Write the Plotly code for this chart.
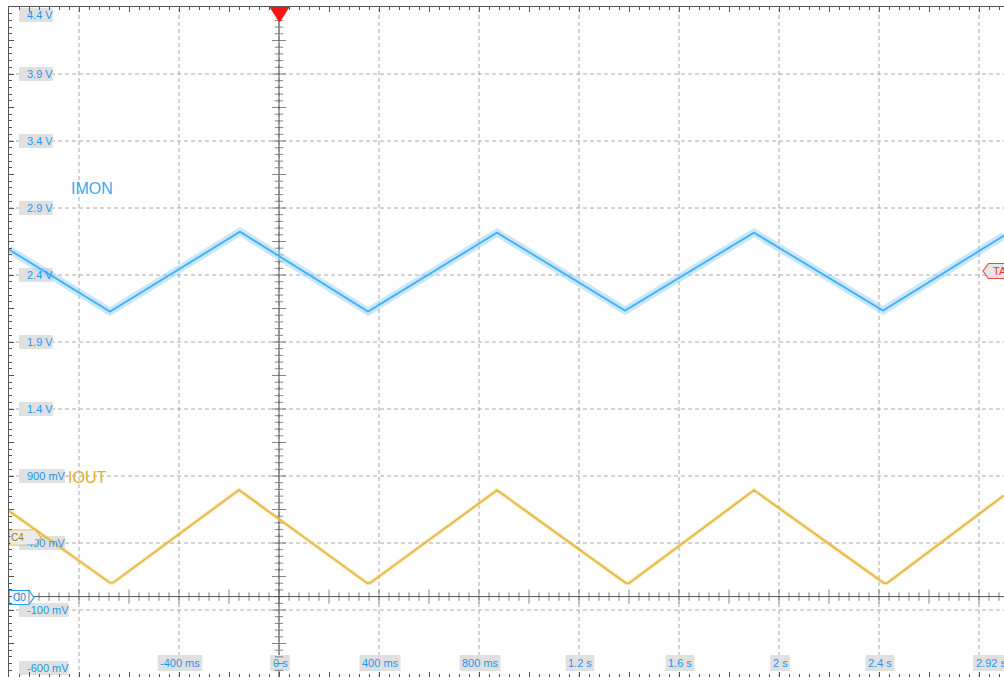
import numpy as np
import plotly.graph_objects as go

# ---------------- data ----------------
imon_t = [-1.08, -0.676, -0.156, 0.356, 0.872, 1.384, 1.900, 2.416, 2.90]
imon_v = [2.590, 2.127, 2.723, 2.127, 2.716, 2.135, 2.716, 2.135, 2.694]

iout_t = [-1.08, -0.676, -0.664, -0.160, 0.352, 0.364, 0.872, 1.388, 1.400, 1.900, 2.420, 2.432, 2.90]
iout_v = [0.639, 0.103, 0.103, 0.796, 0.101, 0.101, 0.794, 0.100, 0.100, 0.794, 0.100, 0.100, 0.756]

y_tick_vals = [4.4, 3.9, 3.4, 2.9, 2.4, 1.9, 1.4, 0.9, 0.4, -0.1, -0.6]
y_tick_text = ["4.4 V", "3.9 V", "3.4 V", "2.9 V", "2.4 V", "1.9 V", "1.4 V",
               "900 mV", "400 mV", "-100 mV", "-600 mV"]
x_tick_vals = [-0.4, 0.0, 0.4, 0.8, 1.2, 1.6, 2.0, 2.4, 2.92]
x_tick_text = ["-400 ms", "0 s", "400 ms", "800 ms", "1.2 s", "1.6 s", "2 s", "2.4 s", "2.92 s"]

x_grid = [-0.8, -0.4, 0.0, 0.4, 0.8, 1.2, 1.6, 2.0, 2.4, 2.8]
y_grid = [3.9, 3.4, 2.9, 2.4, 1.9, 1.4, 0.9, 0.4, -0.1]

# ---------------- geometry ----------------
BODY = 0                       # page margin removed by post_script
PLOT_L, PLOT_T = 9, 7          # screen px of plot-area left / top
PLOT_R, PLOT_B = 1004, 677
W = PLOT_R - BODY
H = PLOT_B - BODY
X_RANGE = [-1.08, 2.90]
Y_RANGE = [-0.6, 4.4]
PPX = (PLOT_R - PLOT_L) / (X_RANGE[1] - X_RANGE[0])
PPY = (PLOT_B - PLOT_T) / (Y_RANGE[1] - Y_RANGE[0])


def tx(px):
    return X_RANGE[0] + (px - PLOT_L) / PPX


def vy(py):
    return Y_RANGE[1] - (py - PLOT_T) / PPY


def sx(t):
    return PLOT_L + (t - X_RANGE[0]) * PPX


FONT = "Liberation Sans, Arial, sans-serif"
BLUE_TXT = "#1e96f0"
LABEL_BG = "#e0e0e0"
AXIS_C = "#555555"
GRID_C = "#a8a8a8"
IMON_C = "#4ab2f2"
IMON_HALO = "rgba(150,210,250,0.5)"
IOUT_C = "#e6b53a"

CW = {"0": .556, "1": .556, "2": .556, "3": .556, "4": .556, "5": .556, "6": .556,
      "7": .556, "8": .556, "9": .556, ".": .278, " ": .278, "V": .667, "m": .833,
      "s": .5, "-": .333}


def text_w(s, size=11):
    return sum(CW.get(c, .55) for c in s) * size


def path(pts, close=True):
    p = "M " + " L ".join(f"{tx(a):.5f},{vy(b):.5f}" for a, b in pts)
    return p + (" Z" if close else "")


shapes = []
annotations = []

# dashed grid
for gx in x_grid:
    shapes.append(dict(type="line", xref="x", yref="paper", x0=gx, x1=gx, y0=0, y1=1,
                       line=dict(color=GRID_C, width=1, dash="4px,3px"), layer="below"))
for gy in y_grid:
    shapes.append(dict(type="line", xref="paper", yref="y", x0=0, x1=1, y0=gy, y1=gy,
                       line=dict(color=GRID_C, width=1, dash="4px,3px"), layer="below"))
# centre axes
shapes.append(dict(type="line", xref="paper", yref="y", x0=0, x1=1, y0=0, y1=0,
                   line=dict(color=AXIS_C, width=1), layer="below"))
shapes.append(dict(type="line", xref="x", yref="paper", x0=0, x1=0, y0=0, y1=1,
                   line=dict(color=AXIS_C, width=1), layer="below"))

# y tick labels
for v, s in zip(y_tick_vals, y_tick_text):
    w = text_w(s) + 8
    cy = PLOT_T + (Y_RANGE[1] - v) * PPY
    if v == Y_RANGE[1]:
        cy = PLOT_T + 8
    elif v == Y_RANGE[0]:
        cy = PLOT_B - 9
    shapes.append(dict(type="rect", xref="x", yref="y",
                       x0=tx(19), x1=tx(19 + w), y0=vy(cy - 7), y1=vy(cy + 7),
                       fillcolor=LABEL_BG, line=dict(width=0), layer="below"))
    annotations.append(dict(x=tx(24.5), y=vy(cy), xref="x", yref="y", text=s, showarrow=False,
                            xanchor="left", yanchor="middle",
                            font=dict(family=FONT, size=11, color=BLUE_TXT)))

# x tick labels
for v, s in zip(x_tick_vals, x_tick_text):
    w = text_w(s) + 5
    cpx = sx(v) + 1
    if cpx + w / 2 > PLOT_R + 4:
        cpx = PLOT_R + 4 - w / 2
    cy = 663
    shapes.append(dict(type="rect", xref="x", yref="y",
                       x0=tx(cpx - w / 2), x1=tx(cpx + w / 2), y0=vy(cy - 8), y1=vy(cy + 8),
                       fillcolor=LABEL_BG, line=dict(width=0), layer="below"))
    annotations.append(dict(x=tx(cpx), y=vy(cy), xref="x", yref="y", text=s, showarrow=False,
                            xanchor="center", yanchor="middle",
                            font=dict(family=FONT, size=11, color=BLUE_TXT)))

# channel markers
shapes.append(dict(type="path", xref="x", yref="y",
                   path=path([(9, 530), (36, 530), (41, 537.5), (36, 545), (9, 545)]),
                   fillcolor="#ebebeb", line=dict(color="#e0b030", width=1.2), layer="below"))
shapes.append(dict(type="path", xref="x", yref="y",
                   path=path([(9, 590.5), (29, 590.5), (34, 597.5), (29, 604.5), (9, 604.5)]),
                   fillcolor="#f2f6fa", line=dict(color="#2a9ff0", width=1.2), layer="below"))
# trigger level marker (right)
shapes.append(dict(type="path", xref="x", yref="y",
                   path=path([(983, 271), (988.5, 263.5), (1010, 263.5), (1010, 278.5), (988.5, 278.5)]),
                   fillcolor="#e6e6e6", line=dict(color="#f04848", width=1.2), layer="above"))
# trigger position marker (top)
shapes.append(dict(type="path", xref="x", yref="y",
                   path=path([(270, 7), (289, 7), (279.5, 22)]),
                   fillcolor="#ff1414", line=dict(color="#ff1414", width=1), layer="above"))

# ---------------- traces ----------------
fig = go.Figure()

# centre-axis ticks
ht = np.round(np.arange(-1.04, 2.9, 0.04), 2)
ht_major = [abs(round(v / 0.2) - v / 0.2) < 1e-6 for v in ht]
fig.add_trace(go.Scatter(x=ht, y=np.zeros_like(ht), mode="markers", hoverinfo="skip",
                         marker=dict(symbol="line-ns", size=[10 if m else 6 for m in ht_major],
                                     line=dict(color=AXIS_C, width=1)), showlegend=False))
vt = np.round(np.arange(-0.55, 4.4, 0.05), 2)
vt_major = [abs(round((v + 0.6) / 0.25) - (v + 0.6) / 0.25) < 1e-6 for v in vt]
fig.add_trace(go.Scatter(x=np.zeros_like(vt), y=vt, mode="markers", hoverinfo="skip",
                         marker=dict(symbol="line-ew", size=[10 if m else 6 for m in vt_major],
                                     line=dict(color=AXIS_C, width=1)), showlegend=False))

fig.add_trace(go.Scatter(x=iout_t, y=iout_v, mode="lines", hoverinfo="skip",
                         line=dict(color="rgba(235,200,100,0.45)", width=4), showlegend=False))
fig.add_trace(go.Scatter(x=iout_t, y=iout_v, mode="lines", name="IOUT",
                         line=dict(color=IOUT_C, width=1.6), showlegend=False))
fig.add_trace(go.Scatter(x=imon_t, y=imon_v, mode="lines", hoverinfo="skip",
                         line=dict(color=IMON_HALO, width=8), showlegend=False))
fig.add_trace(go.Scatter(x=imon_t, y=imon_v, mode="lines", name="IMON",
                         line=dict(color=IMON_C, width=2), showlegend=False))

annotations += [
    dict(x=tx(69), y=vy(188), xref="x", yref="y", text="IMON", showarrow=False,
         xanchor="left", yanchor="middle", font=dict(family=FONT, size=16, color="#3aa8f2")),
    dict(x=tx(66), y=vy(477), xref="x", yref="y", text="IOUT", showarrow=False,
         xanchor="left", yanchor="middle", font=dict(family=FONT, size=16, color="#e0b030")),
    dict(x=tx(10), y=vy(537.5), xref="x", yref="y", text="C4", showarrow=False,
         xanchor="left", yanchor="middle", width=24, height=13, align="left",
         bgcolor="#ebebeb", borderpad=0,
         font=dict(family=FONT, size=10, color="#9a7a1e")),
    dict(x=tx(11), y=vy(597.5), xref="x", yref="y", text="C0", showarrow=False,
         xanchor="left", yanchor="middle", font=dict(family=FONT, size=10, color="#1e86e0")),
    dict(x=tx(991), y=vy(271), xref="x", yref="y", text="TA", showarrow=False,
         xanchor="left", yanchor="middle", font=dict(family=FONT, size=11, color="#f03030")),
]

fig.update_layout(
    width=W, height=H,
    margin=dict(l=PLOT_L - BODY, r=0, t=PLOT_T - BODY, b=0, pad=0),
    paper_bgcolor="white", plot_bgcolor="white",
    shapes=shapes, annotations=annotations,
    xaxis=dict(range=X_RANGE, showgrid=False, zeroline=False, showticklabels=False,
               showline=True, linecolor=AXIS_C, linewidth=1, mirror="ticks",
               ticks="inside", ticklen=5, tickcolor=AXIS_C, tick0=0, dtick=0.2,
               minor=dict(ticks="inside", ticklen=3, tickcolor=AXIS_C, dtick=0.04, showgrid=False)),
    yaxis=dict(range=Y_RANGE, showgrid=False, zeroline=False, showticklabels=False,
               showline=True, linecolor=AXIS_C, linewidth=1, mirror=False,
               ticks="inside", ticklen=5, tickcolor=AXIS_C, tick0=-0.6, dtick=0.25,
               minor=dict(ticks="inside", ticklen=3, tickcolor=AXIS_C, dtick=0.05, showgrid=False)),
    showlegend=False,
)

fig.write_html("out.html", config={"displayModeBar": False},
               post_script="document.body.style.margin='0px';"
                           "document.body.style.overflow='hidden';")
